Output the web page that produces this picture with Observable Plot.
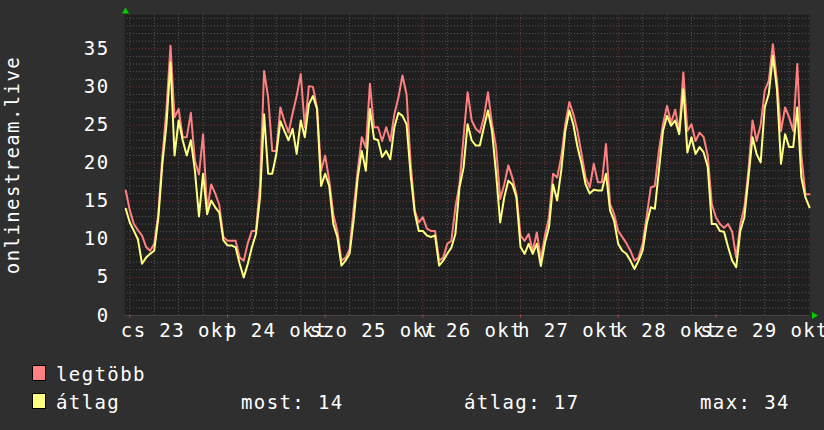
<!DOCTYPE html>
<html>
<head>
<meta charset="utf-8">
<script src="https://cdn.jsdelivr.net/npm/d3@7"></script>
<script src="https://cdn.jsdelivr.net/npm/@observablehq/plot@0.6"></script>
<style>
  html, body { margin: 0; padding: 0; background: #2f2f2f; overflow: hidden; }
  #chart svg { display: block; }
</style>
</head>
<body>
<div id="chart"></div>
<script>
// hours since Thu 23 Oct 00:00
const hours = d3.range(-1, 168);
const maxValues = [
  16.4, 13.8, 12.0, 11.2, 10.5, 9.0, 8.5, 9.4, 13.3, 20.8,
  27.0, 35.4, 26.0, 27.1, 23.4, 23.4, 26.6, 20.3, 18.5, 23.8,
  13.8, 17.2, 16.0, 14.5, 10.3, 9.8, 9.8, 9.8, 7.6, 7.2,
  9.5, 11.1, 11.1, 17.2, 32.1, 28.6, 21.6, 21.6, 27.3, 25.5,
  24.0, 26.5, 28.8, 31.7, 24.7, 30.1, 30.0, 27.3, 19.0, 21.0,
  17.7, 13.3, 11.1, 7.2, 7.6, 8.7, 14.0, 19.0, 23.4, 22.0,
  30.4, 24.7, 24.7, 22.9, 24.7, 22.9, 26.4, 28.6, 31.5, 29.0,
  20.0, 13.8, 12.2, 12.9, 11.4, 11.1, 11.1, 7.2, 7.6, 9.4,
  9.8, 14.2, 17.2, 23.4, 29.3, 25.6, 24.5, 24.0, 26.0, 29.3,
  25.1, 22.1, 15.3, 17.2, 19.7, 18.1, 15.9, 10.5, 9.8, 10.7,
  8.5, 10.9, 7.4, 10.5, 12.9, 18.6, 18.1, 20.8, 25.1, 28.0,
  26.4, 24.2, 21.2, 18.1, 16.8, 19.9, 17.5, 17.5, 22.5, 14.6,
  13.3, 11.1, 10.3, 9.5, 8.5, 7.2, 7.6, 9.4, 13.0, 16.8,
  17.0, 21.6, 25.1, 27.5, 25.3, 27.0, 24.2, 31.9, 24.2, 25.1,
  22.9, 24.0, 23.4, 21.0, 14.6, 12.9, 12.0, 11.5, 12.0, 11.0,
  7.6, 12.0, 14.2, 19.0, 25.6, 22.9, 25.0, 29.5, 30.8, 35.6,
  30.8, 24.2, 27.3, 26.0, 24.2, 33.0, 21.0, 15.9, 15.9
];
const avgValues = [
  14.0, 12.2, 11.1, 10.0, 6.8, 7.6, 8.1, 8.5, 12.7, 19.9,
  25.0, 33.2, 21.0, 25.6, 23.0, 21.0, 23.0, 19.0, 13.0, 18.6,
  13.3, 15.1, 14.2, 13.5, 9.85, 9.2, 9.2, 8.95, 6.8, 5.0,
  6.8, 8.95, 10.7, 15.5, 26.4, 18.6, 18.6, 21.2, 25.5, 24.2,
  23.0, 24.5, 21.2, 25.6, 23.4, 27.7, 28.8, 27.1, 17.0, 18.6,
  17.0, 12.0, 10.3, 6.55, 7.2, 8.1, 12.5, 18.1, 21.6, 19.0,
  27.1, 23.2, 23.0, 20.8, 21.6, 20.5, 24.7, 26.6, 26.2, 25.1,
  18.5, 13.5, 11.1, 11.1, 10.5, 10.3, 10.5, 6.55, 7.2, 8.1,
  8.9, 10.7, 16.8, 19.4, 25.1, 23.0, 22.3, 22.3, 24.7, 26.9,
  24.2, 18.6, 12.2, 15.5, 17.7, 17.2, 15.5, 9.0, 8.1, 9.4,
  8.1, 9.4, 6.5, 9.5, 11.6, 17.2, 15.1, 19.0, 24.2, 26.9,
  25.0, 22.1, 19.9, 17.2, 16.0, 16.5, 16.4, 16.4, 18.6, 13.8,
  12.4, 9.4, 8.5, 8.1, 7.2, 6.1, 7.2, 8.5, 12.0, 14.2,
  14.0, 19.0, 24.2, 26.2, 24.9, 25.6, 23.8, 29.7, 21.4, 23.4,
  21.2, 22.1, 21.4, 19.5, 12.0, 12.0, 11.1, 11.0, 9.0, 7.2,
  6.35, 11.1, 12.9, 18.1, 23.4, 21.2, 20.1, 27.3, 29.1, 34.1,
  29.7, 19.9, 23.8, 22.1, 22.1, 27.3, 18.1, 15.5, 14.2
];
const dayLabels = ["cs 23 okt", "p 24 okt", "szo 25 okt", "v 26 okt", "h 27 okt", "k 28 okt", "sze 29 okt"];
const dayLabelHours = [12, 36, 60, 84, 108, 132, 156];
const dayStarts = [0, 24, 48, 72, 96, 120, 144];
const sixHourLines = [6, 12, 18, 30, 36, 42, 54, 60, 66, 78, 84, 90, 102, 108, 114, 126, 132, 138, 150, 156, 162];
const yTicks = [0, 5, 10, 15, 20, 25, 30, 35];
const yMajorGrid = [5, 10, 15, 20, 25, 30, 35];
const yMinorGrid = [1,2,3,4,6,7,8,9,11,12,13,14,16,17,18,19,21,22,23,24,26,27,28,29,31,32,33,34,36,37,38,39];
const yAxisLabel = "onlinestream.live";
const seriesNames = ["legtöbb", "átlag"];
const stats = ["most: 14", "átlag: 17", "max: 34"];

const xDomain = [-1.3, 167];
const yDomain = [0, 39.5];

const maxData = hours.map((h, i) => ({h, v: maxValues[i]}));
const avgData = hours.map((h, i) => ({h, v: avgValues[i]}));

const font = "'DejaVu Sans Mono', monospace";
const minorCol = "#555555";
const majorCol = "#7d3434";
const pink = "#ff8080";
const yellow = "#ffff80";

const chart = Plot.plot({
  width: 824,
  height: 350,
  marginLeft: 124,
  marginRight: 15,
  marginTop: 14,
  marginBottom: 35,
  x: {domain: xDomain, axis: null, label: null},
  y: {domain: yDomain, axis: null, label: null},
  style: {background: "#2f2f2f", color: "#ffffff", fontFamily: font, fontSize: "19px", letterSpacing: "1.4px"},
  marks: [
    Plot.frame({fill: "#1f1f1f", stroke: null}),
    Plot.ruleY(yMinorGrid, {stroke: minorCol, strokeDasharray: "1,2", strokeWidth: 1}),
    Plot.ruleX(sixHourLines, {stroke: minorCol, strokeDasharray: "1,2", strokeWidth: 1}),
    Plot.ruleY(yMajorGrid, {stroke: majorCol, strokeDasharray: "1,2", strokeWidth: 1}),
    Plot.ruleX(dayStarts, {stroke: majorCol, strokeDasharray: "1,2", strokeWidth: 1}),
    Plot.ruleY([0], {stroke: "#444444"}),
    Plot.ruleX([xDomain[0]], {stroke: "#2a2a2a", strokeWidth: 2}),
    Plot.ruleX(dayStarts, {y1: 0, y2: -0.4, stroke: "#a04040"}),
    Plot.line(maxData, {x: "h", y: "v", stroke: pink, strokeWidth: 2, curve: "linear"}),
    Plot.line(avgData, {x: "h", y: "v", stroke: yellow, strokeWidth: 2, curve: "linear"}),
    Plot.axisY(yTicks, {label: null, tickSize: 0, tickPadding: 15, fill: "#ffffff", fontSize: 19}),
    Plot.axisX(dayLabelHours, {label: null, tickSize: 0, tickPadding: 8, fill: "#ffffff", fontSize: 19,
      tickFormat: (d) => dayLabels[dayLabelHours.indexOf(d)]}),
    Plot.text([yAxisLabel], {frameAnchor: "left", textAnchor: "middle", lineAnchor: "middle", dx: -112, rotate: -90, fill: "#ffffff", fontSize: 19}),
    Plot.dot([0], {x: () => xDomain[0], y: () => yDomain[1], dx: 1, dy: -3, symbol: "triangle", r: 2.6, fill: "#00cc00", stroke: null}),
    Plot.dot([0], {x: () => xDomain[1], y: () => 0, dx: 4.5, rotate: 90, symbol: "triangle", r: 2.6, fill: "#00cc00", stroke: null})
  ]
});
document.getElementById("chart").appendChild(chart);

// legend below the plot
const leg = d3.select("#chart").append("svg")
  .attr("width", 824).attr("height", 80)
  .style("background", "#2f2f2f")
  .style("font-family", font).style("font-size", "19px").style("letter-spacing", "1.4px");
const rows = [
  {name: seriesNames[0], color: pink, y: 15, base: 31},
  {name: seriesNames[1], color: yellow, y: 43, base: 59}
];
rows.forEach(r => {
  leg.append("rect").attr("x", 32.5).attr("y", r.y + 0.5).attr("width", 13).attr("height", 15)
    .attr("fill", r.color).attr("stroke", "#000").attr("stroke-width", 1);
  leg.append("text").attr("x", 56).attr("y", r.base).attr("fill", "#fff").text(r.name);
});
const statX = [241, 464, 700];
stats.forEach((s, i) => {
  leg.append("text").attr("x", statX[i]).attr("y", 59).attr("fill", "#fff").text(s);
});
</script>
</body>
</html>
